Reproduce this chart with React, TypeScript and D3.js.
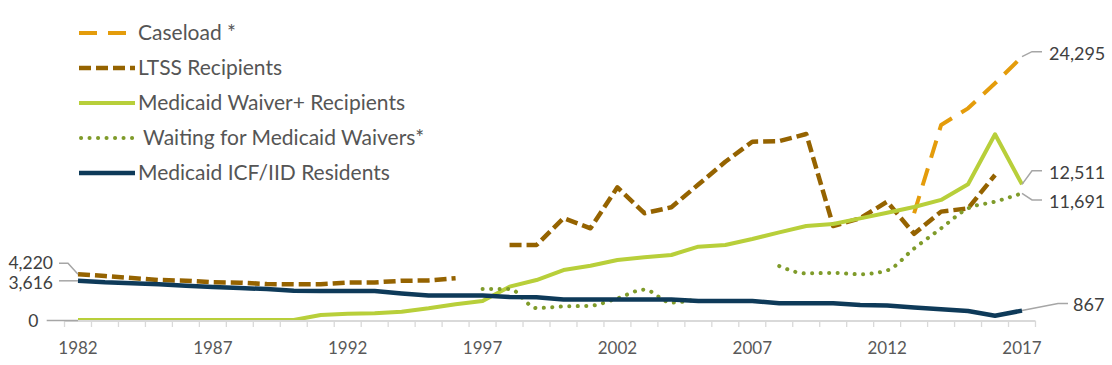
import React from "react";
import * as d3 from "d3";

// categories
const years = d3.range(1982, 2018);
const xLabels = [1982, 1987, 1992, 1997, 2002, 2007, 2012, 2017];

// series values, one per year 1982..2017 (null = no data)
const caseload = [
  null, null, null, null, null, null, null, null, null, null,
  null, null, null, null, null, null, null, null, null, null,
  null, null, null, null, null, null, null, null, null, null,
  null, 9850, 17990, 19530, 21840, 24295,
];
const ltss = [
  4220, 4060, 3875, 3690, 3630, 3475, 3445, 3320, 3290, 3300,
  3450, 3470, 3620, 3650, 3850, null, 6920, 6920, 9400, 8460,
  12240, 9850, 10400, 12500, 14600, 16450, 16500, 17160, 8670, 9380,
  10920, 7950, 10000, 10300, 13380, null,
];
const waiver = [
  0, 0, 0, 0, 0, 0, 0, 0, 0, 460,
  580, 620, 770, 1080, 1450, 1750, 3075, 3690, 4610, 5010,
  5535, 5785, 6000, 6765, 6920, 7475, 8090, 8670, 8860, 9380,
  9900, 10430, 11080, 12520, 17135, 12511,
];
const waiting = [
  null, null, null, null, null, null, null, null, null, null,
  null, null, null, null, null, 2860, 2860, 1100, 1250, 1320,
  2000, 2800, 1600, 1950, null, null, 4980, 4300, 4350, 4220,
  4580, 6600, 8460, 10300, 10920, 11691,
];
const icf = [
  3616, 3480, 3400, 3300, 3150, 3050, 2950, 2850, 2700, 2680,
  2680, 2680, 2450, 2250, 2250, 2250, 2120, 2090, 1900, 1900,
  1900, 1900, 1900, 1750, 1750, 1750, 1550, 1550, 1550, 1380,
  1330, 1150, 990, 830, 400, 867,
];

const seriesNames = [
  "Caseload *",
  "LTSS Recipients",
  "Medicaid Waiver+ Recipients",
  " Waiting for Medicaid Waivers*",
  "Medicaid ICF/IID Residents",
];

const leftValues = [4220, 3616, 0];
const rightValues = [24295, 12511, 11691, 867];

const FONT = "Lato, 'Open Sans', sans-serif";
const LEADER = "#a6a6a6";

const App = () => {
  const width = 1112;
  const height = 365;

  const x = d3.scaleLinear().domain([1982, 2017]).range([78, 1022]);
  const y = d3.scaleLinear().domain([0, 25000]).range([320, 49.05]);

  const styles = [
    { data: caseload, color: "#E49C0B", w: 4, dash: "18,11", cap: "butt", curve: d3.curveLinear },
    { data: ltss, color: "#956300", w: 4.5, dash: "12,5", cap: "butt", curve: d3.curveLinear },
    { data: waiver, color: "#B8CF3A", w: 4, dash: null, cap: "butt", curve: d3.curveLinear },
    { data: waiting, color: "#7F9B2A", w: 4, dash: "0.1,8.4", cap: "round", curve: d3.curveMonotoneX },
    { data: icf, color: "#0E3A59", w: 4.5, dash: null, cap: "butt", curve: d3.curveLinear },
  ];

  const line = (data, curve) =>
    d3
      .line()
      .defined((d) => d != null)
      .x((_d, i) => x(years[i]))
      .y((d) => y(d))
      .curve(curve)(data);

  // left labels with leaders
  const leftLabel = (v, i) => {
    const py = y(v);
    let path, ty, tx = 53, lx = 59;
    if (i === 0) {
      ty = 262.5;
      path = `M${lx},263.3L68,263.3L${x(1982)},${py}`;
    } else if (i === 1) {
      ty = py + 2;
      path = `M${lx},${py}L${x(1982)},${py}`;
    } else {
      ty = py + 1;
      tx = 38.5;
      path = `M46.7,${py + 0.5}L${x(1982)},${py + 0.5}`;
    }
    return (
      <g key={"l" + i}>
        <path d={path} fill="none" stroke={LEADER} strokeWidth={1.5} />
        <text x={tx} y={ty} dy="0.36em" textAnchor="end" fontSize={17.5} fill="#404040">
          {d3.format(",")(v)}
        </text>
      </g>
    );
  };

  const rightOffsets = [-5, -13.7, 6.7, -7.1];
  const rightLabel = (v, i) => {
    const px = x(2017);
    const py = y(v);
    const ly = py + rightOffsets[i];
    const kx = i === 3 ? px + 36 : px + 10;
    const ex = i === 3 ? px + 46 : px + 20;
    const tx = i === 3 ? 1073 : 1049;
    return (
      <g key={"r" + i}>
        <path d={`M${px},${py}L${kx},${ly}L${ex},${ly}`} fill="none" stroke={LEADER} strokeWidth={1.5} />
        <text x={tx} y={ly + 1.5} dy="0.36em" fontSize={18} fill="#404040">
          {d3.format(",")(v)}
        </text>
      </g>
    );
  };

  const ticks = years.map((yr) => yr - 0.5).concat([2017.5]);

  return (
    <svg
      width={width}
      height={height}
      style={{ position: "absolute", left: 0, top: 0, fontFamily: FONT }}
    >
      <rect width={width} height={height} fill="#fff" />

      {/* series */}
      {styles.map((s, i) => (
        <path
          key={i}
          d={line(s.data, s.curve)}
          fill="none"
          stroke={s.color}
          strokeWidth={s.w}
          strokeDasharray={s.dash || undefined}
          strokeLinecap={s.cap}
          strokeLinejoin="round"
        />
      ))}

      {/* x axis */}
      <line x1={x(1981.5)} x2={x(2017.5)} y1={321} y2={321} stroke="#d9d9d9" strokeWidth={1.8} />
      {ticks.map((t, i) => (
        <line key={i} x1={x(t)} x2={x(t)} y1={321} y2={327} stroke="#d9d9d9" strokeWidth={1.3} />
      ))}
      {xLabels.map((yr) => (
        <text key={yr} x={x(yr)} y={354} textAnchor="middle" fontSize={17} fill="#595959">
          {yr}
        </text>
      ))}

      {leftValues.map(leftLabel)}
      {rightValues.map(rightLabel)}

      {/* legend */}
      {styles.map((s, i) => {
        const ly = 33 + i * 35;
        return (
          <g key={"lg" + i}>
            <line
              x1={s.cap === "round" ? 81 : 79}
              x2={135}
              y1={ly}
              y2={ly}
              stroke={s.color}
              strokeWidth={s.w}
              strokeDasharray={s.dash || undefined}
              strokeLinecap={s.cap}
            />
            <text x={138} y={ly} dy="0.35em" fontSize={21} fill="#555" style={{ whiteSpace: "pre" }}>
              {seriesNames[i]}
            </text>
          </g>
        );
      })}
    </svg>
  );
};

export default App;
